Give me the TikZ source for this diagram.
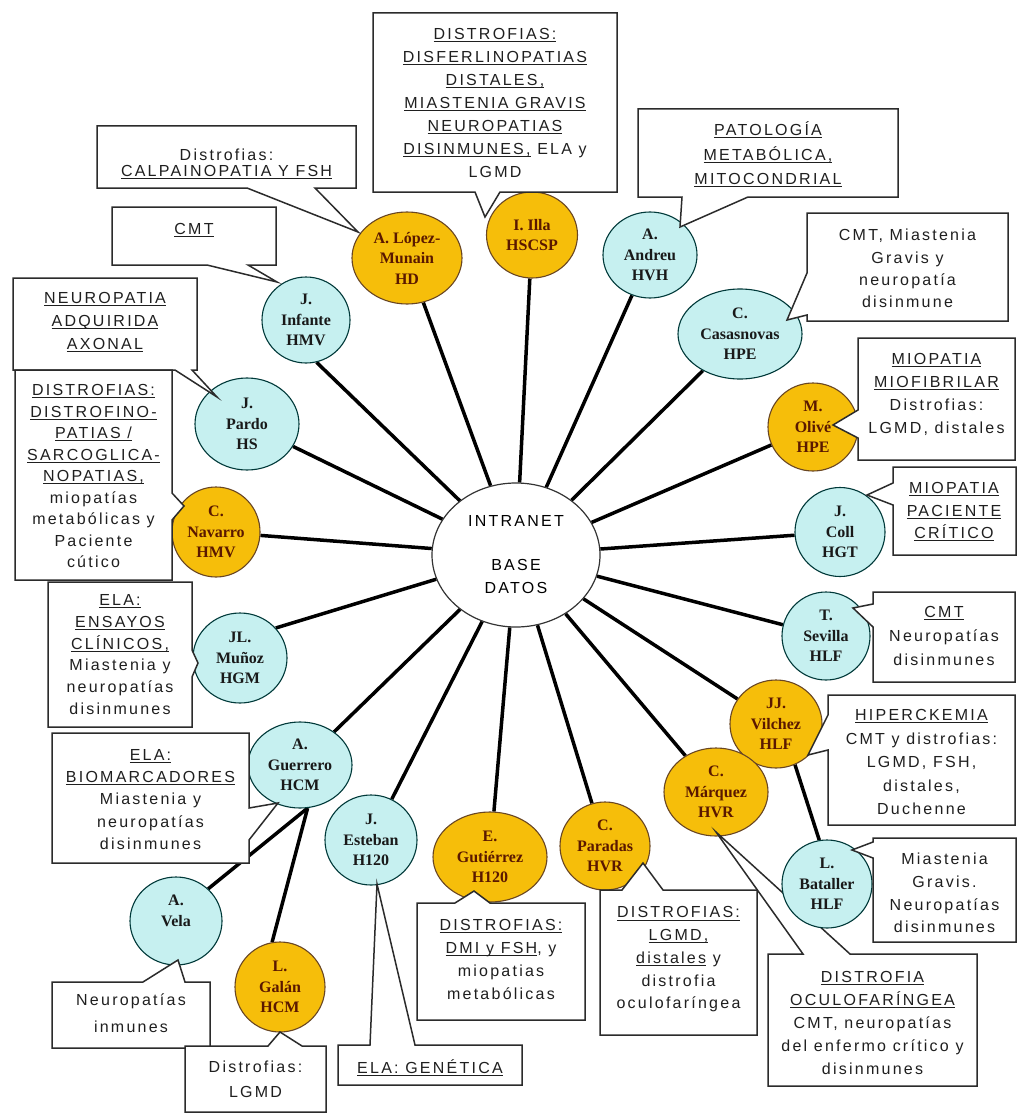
\documentclass[tikz,border=0pt]{standalone}
\usepackage{fontspec}
\setmainfont{Liberation Serif}
\newfontfamily\bx{Liberation Sans}[LetterSpace=14]
\usetikzlibrary{shapes.geometric}
\definecolor{orng}{HTML}{F6BE0A}
\definecolor{lblue}{HTML}{C6F0F0}
\definecolor{ored}{HTML}{5A1800}
\definecolor{lnk}{HTML}{2B2B2B}
\newcommand\ul[1]{\setbox0\hbox{#1}\rlap{\rule[-2.8pt]{\wd0}{1.1pt}}\box0\relax}
\pgfdeclarelayer{bg}
\pgfsetlayers{bg,main}
\begin{document}
\begin{tikzpicture}[x=1pt,y=-1pt,
  circ/.style={ellipse, inner sep=0pt, line width=1.1pt, align=center, font=\bfseries\fontsize{16}{20.5}\selectfont},
  blc/.style={circ, fill=lblue, draw=teal!45!black, text=black!90},
  orc/.style={circ, fill=orng, draw=brown!55!black, text=ored},
  spoke/.style={line width=3.5pt, black},
  cbox/.style={fill=white, draw=lnk, line width=1.5pt, line join=miter},
  bt/.style={align=center, inner sep=0pt, text=black!88, font=\bx\fontsize{16}{#1}\selectfont},
  bt/.default=22.5]
\useasboundingbox (0,0) rectangle (1018,1113);
\begin{pgfonlayer}{bg}
\fill[white] (0,0) rectangle (1018,1113);
\end{pgfonlayer}

% central database
\node[ellipse, draw=black!80, line width=1.2pt, fill=white, minimum width=168pt, minimum height=144pt, inner sep=0pt,
      align=center, font=\bx\fontsize{16}{23}\selectfont] (db) at (516,555) {INTRANET\\[21pt]BASE\\DATOS};

% centres
\node[orc, minimum width=110pt, minimum height=92pt] (lopez) at (407,258) {A. López-\\Munain\\HD};
\node[orc, minimum width=91pt, minimum height=86pt] (illa) at (532,235) {I. Illa\\HSCSP};
\node[blc, minimum width=94pt, minimum height=86pt] (andreu) at (650,255) {A.\\Andreu\\HVH};
\node[blc, minimum width=124pt, minimum height=90pt] (casas) at (740,334) {C.\\Casasnovas\\HPE};
\node[orc, minimum width=90pt, minimum height=88pt] (olive) at (813,427) {M.\\Olivé\\HPE};
\node[blc, minimum width=90pt, minimum height=89pt] (coll) at (840,532) {J.\\Coll\\HGT};
\node[blc, minimum width=88pt, minimum height=88pt] (sevilla) at (826,636) {T.\\Sevilla\\HLF};
\node[orc, minimum width=92pt, minimum height=88pt] (vilchez) at (776,724) {JJ.\\Vilchez\\HLF};
\node[orc, minimum width=104pt, minimum height=88pt] (marquez) at (716,792) {C.\\Márquez\\HVR};
\node[orc, minimum width=90pt, minimum height=88pt] (paradas) at (605,846) {C.\\Paradas\\HVR};
\node[orc, minimum width=114pt, minimum height=90pt] (gutierrez) at (490,857) {E.\\Gutiérrez\\H120};
\node[blc, minimum width=92pt, minimum height=90pt] (esteban) at (371,840) {J.\\Esteban\\H120};
\node[blc, minimum width=104pt, minimum height=86pt] (guerrero) at (300,765) {A.\\Guerrero\\HCM};
\node[blc, minimum width=92pt, minimum height=88pt] (vela) at (176,921) {A.\\Vela\\\mbox{}};
\node[orc, minimum width=90pt, minimum height=90pt] (galan) at (280,987) {L.\\Galán\\HCM};
\node[blc, minimum width=94pt, minimum height=90pt] (munoz) at (240,658) {JL.\\Muñoz\\HGM};
\node[orc, minimum width=88pt, minimum height=90pt] (navarro) at (216,532) {C.\\Navarro\\HMV};
\node[blc, minimum width=104pt, minimum height=92pt] (pardo) at (247,424) {J.\\Pardo\\HS};
\node[blc, minimum width=88pt, minimum height=86pt] (infante) at (306,320) {J.\\Infante\\HMV};

% callouts
\draw[cbox] (97,126) -- (356,126) -- (356,188) -- (315,188) -- (358,232) -- (247,188) -- (97,188) -- cycle;
\node[bt=16] (t-calp) at (226.5,164) {Distrofias:\\\ul{CALPAINOPATIA Y FSH}};

\draw[cbox] (373,13) -- (617,13) -- (617,192) -- (500,192) -- (485,217) -- (475,192) -- (373,192) -- cycle;
\node[bt=23] (t-dist1) at (495,103) {\ul{DISTROFIAS:}\\\ul{DISFERLINOPATIAS}\\\ul{DISTALES,}\\\ul{MIASTENIA GRAVIS}\\\ul{NEUROPATIAS}\\\ul{DISINMUNES,} ELA y\\LGMD};

\draw[cbox] (112,207) -- (276,207) -- (276,265) -- (248,265) -- (277,282) -- (207,265) -- (112,265) -- cycle;
\node[bt] (t-cmt1) at (194,230) {\ul{CMT}};

\draw[cbox] (13,278) -- (197,278) -- (197,370) -- (192,370) -- (217,397) -- (175,370) -- (13,370) -- cycle;
\node[bt=23] (t-neuro) at (105,322) {\ul{NEUROPATIA}\\\ul{ADQUIRIDA}\\\ul{AXONAL}};

\draw[cbox] (15,370) -- (172,370) -- (172,493) -- (184,506) -- (172,520) -- (172,580) -- (15,580) -- cycle;
\node[bt=21.5] (t-distro) at (93.5,476) {\ul{DISTROFIAS:}\\\ul{DISTROFINO-}\\\ul{PATIAS /}\\\ul{SARCOGLICA-}\\\ul{NOPATIAS,}\\miopatías\\metabólicas y\\Paciente\\cútico};

\draw[cbox] (48,582) -- (192,582) -- (192,650) -- (198,663) -- (192,677) -- (192,727) -- (48,727) -- cycle;
\node[bt=21.8] (t-ensayos) at (120,654.5) {\ul{ELA:}\\\ul{ENSAYOS}\\\ul{CLÍNICOS,}\\Miastenia y\\neuropatías\\disinmunes};

\draw[cbox] (52,733) -- (249,733) -- (249,808) -- (278,803) -- (249,840) -- (249,863) -- (52,863) -- cycle;
\node[bt=22.25] (t-biomar) at (150.5,799.5) {\ul{ELA:}\\\ul{BIOMARCADORES}\\Miastenia y\\neuropatías\\disinmunes};

\draw[cbox] (52,982) -- (143,982) -- (178,960) -- (185,982) -- (210,982) -- (210,1048) -- (52,1048) -- cycle;
\node[bt=27] (t-inmunes) at (131,1013.5) {Neuropatías\\inmunes};

\draw[cbox] (185,1046) -- (268,1046) -- (280,1032) -- (302,1046) -- (326,1046) -- (326,1112) -- (185,1112) -- cycle;
\node[bt=25] (t-lgmdg) at (255.5,1079.5) {Distrofias:\\LGMD};

\draw[cbox] (338,1045) -- (370,1045) -- (377,884) -- (415,1045) -- (522,1045) -- (522,1085) -- (338,1085) -- cycle;
\node[bt] (t-genet) at (430,1068) {\ul{ELA: GENÉTICA}};

\draw[cbox] (417,903) -- (455,903) -- (474,891) -- (490,903) -- (585,903) -- (585,1020) -- (417,1020) -- cycle;
\node[bt=23] (t-dmi) at (501,959.5) {\ul{DISTROFIAS:}\\\ul{DMI y FSH}, y\\miopatias\\metabólicas};

\draw[cbox] (600,890) -- (622,890) -- (643,863) -- (663,890) -- (757,890) -- (757,1035) -- (600,1035) -- cycle;
\node[bt=22.75] (t-lgmdp) at (678.5,959.5) {\ul{DISTROFIAS:}\\\ul{LGMD,}\\\ul{distales} y\\distrofia\\oculofaríngea};

\draw[cbox] (768,954) -- (803,954) -- (716,832) -- (850,954) -- (977,954) -- (977,1086) -- (768,1086) -- cycle;
\node[bt=23] (t-oculo) at (872.5,1023) {\ul{DISTROFIA}\\\ul{OCULOFARÍNGEA}\\CMT, neuropatías\\del enfermo crítico y\\disinmunes};

\draw[cbox] (828,695) -- (1015,695) -- (1015,825) -- (828,825) -- (828,750) -- (808,755) -- (828,715) -- cycle;
\node[bt=23.5] (t-hiper) at (921.5,762) {\ul{HIPERCKEMIA}\\CMT y distrofias:\\LGMD, FSH,\\distales,\\Duchenne};

\draw[cbox] (873,592) -- (1015,592) -- (1015,682) -- (873,682) -- (873,627) -- (853,608) -- (873,604) -- cycle;
\node[bt=24] (t-cmt2) at (944,636) {\ul{CMT}\\Neuropatías\\disinmunes};

\draw[cbox] (893,467) -- (1016,467) -- (1016,555) -- (893,555) -- (893,505) -- (867,495) -- (893,483) -- cycle;
\node[bt=22.5] (t-pacien) at (954,512) {\ul{MIOPATIA}\\\ul{PACIENTE}\\\ul{CRÍTICO}};

\draw[cbox] (858,338) -- (1015,338) -- (1015,460) -- (858,460) -- (858,438) -- (833,425) -- (858,410) -- cycle;
\node[bt=23] (t-miofib) at (936.5,394.5) {\ul{MIOPATIA}\\\ul{MIOFIBRILAR}\\Distrofias:\\LGMD, distales};

\draw[cbox] (807,213) -- (1008,213) -- (1008,321) -- (807,321) -- (807,315) -- (787,320) -- (807,273) -- cycle;
\node[bt=22.3] (t-cmt3) at (907.5,268.5) {CMT, Miastenia\\Gravis y\\neuropatía\\disinmune};

\draw[cbox] (638,109) -- (898,109) -- (898,197) -- (748,197) -- (680,227) -- (682,197) -- (638,197) -- cycle;
\node[bt=24.5] (t-patol) at (768,154.5) {\ul{PATOLOGÍA}\\\ul{METABÓLICA,}\\\ul{MITOCONDRIAL}};

% L. Bataller above the OCULOFARINGEA pointer, below its own callout
\node[blc, minimum width=90pt, minimum height=88pt] (bataller) at (827,884) {L.\\Bataller\\HLF};

\draw[cbox] (873,838) -- (1016,838) -- (1016,942) -- (873,942) -- (873,858) -- (852,850) -- (873,842) -- cycle;
\node[bt=22.7] (t-miast) at (944.5,893) {Miastenia\\Gravis.\\Neuropatías\\disinmunes};

% connectors
\begin{pgfonlayer}{bg}
\foreach \n in {lopez,illa,andreu,casas,olive,coll,sevilla,vilchez,marquez,paradas,gutierrez,esteban,guerrero,pardo,navarro}
  \draw[spoke] (db) -- (\n);
\draw[spoke] (db) -- (infante.-76);
\draw[spoke] (db) -- (munoz.40);
\draw[spoke] (guerrero.-80) -- (vela.45);
\draw[spoke] (guerrero.-80) -- (galan.100);
\draw[spoke] (vilchez.-65) -- (bataller.100);
\end{pgfonlayer}
\end{tikzpicture}
\end{document}
